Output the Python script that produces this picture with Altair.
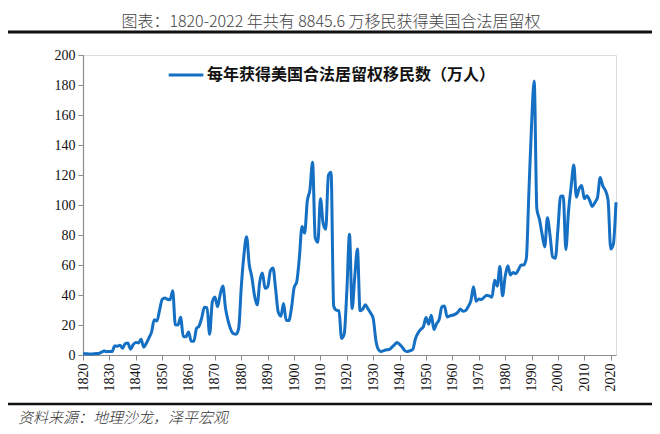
import altair as alt
import pandas as pd

# Persons obtaining lawful permanent resident status, 1820-2022 (万人)
years = list(range(1820, 2023))
values = [
    0.84, 0.91, 0.69, 0.64, 0.79, 1.02, 1.08, 1.89, 2.74, 2.25,
    2.33, 2.26, 6.05, 5.86, 6.54, 4.54, 7.62, 7.93, 3.89, 6.81,
    8.41, 8.03, 10.46, 5.25, 7.86, 11.44, 15.44, 23.50, 22.65, 29.70,
    37.00, 37.95, 37.16, 36.86, 42.78, 20.09, 20.04, 25.13, 12.31, 12.13,
    15.36, 9.19, 9.20, 17.63, 19.34, 24.81, 31.86, 31.57, 13.88, 35.28,
    38.72, 32.14, 40.48, 45.98, 31.33, 22.75, 17.00, 14.19, 13.85, 17.78,
    45.73, 66.94, 78.90, 60.33, 51.86, 39.53, 33.42, 49.01, 54.69, 44.44,
    45.53, 56.03, 57.97, 43.97, 28.56, 25.85, 34.33, 23.08, 22.93, 31.17,
    44.86, 48.79, 64.87, 85.70, 81.29, 102.65, 110.07, 128.53, 78.29, 75.18,
    104.16, 87.86, 83.82, 119.79, 121.85, 32.67, 29.88, 29.54, 11.06, 14.11,
    43.00, 80.52, 30.96, 52.29, 70.69, 29.43, 30.45, 33.52, 30.73, 27.97,
    24.17, 9.71, 3.56, 2.31, 2.95, 3.50, 3.63, 5.02, 6.79, 8.30,
    7.08, 5.18, 2.88, 2.37, 2.86, 3.81, 10.87, 14.73, 17.06, 18.83,
    24.92, 20.57, 26.55, 17.04, 20.82, 23.78, 32.16, 32.69, 25.33, 26.07,
    26.54, 27.13, 28.38, 30.63, 29.22, 29.67, 32.30, 36.20, 45.44, 35.86,
    37.33, 37.05, 38.47, 39.85, 39.39, 38.54, 49.91, 45.88, 58.98, 39.42,
    52.43, 59.50, 53.36, 55.01, 54.18, 56.81, 60.00, 59.99, 64.13, 109.02,
    153.59, 182.66, 97.40, 90.39, 80.40, 72.02, 91.56, 79.78, 65.32, 64.48,
    84.10, 105.89, 105.94, 70.35, 95.79, 112.23, 126.61, 105.24, 110.71, 113.08,
    104.26, 106.20, 103.16, 99.06, 101.65, 105.10, 118.35, 112.72, 109.66, 103.18,
    70.74, 74.00, 101.83,
]
series_name = "每年获得美国合法居留权移民数（万人）"
title_text = "图表：1820-2022 年共有 8845.6 万移民获得美国合法居留权"
source_text = "资料来源：地理沙龙，泽平宏观"
x_ticks = list(range(1820, 2021, 10))
y_ticks = list(range(0, 201, 20))

df = pd.DataFrame({"year": years, "value": values, "series": series_name})

BLUE = "#1570C4"
AXIS_GRAY = "#8c8c8c"

line = alt.Chart(df).mark_line(strokeWidth=3, interpolate="monotone").encode(
    x=alt.X("year:Q",
            scale=alt.Scale(domain=[1820, 2022], nice=False, zero=False),
            axis=alt.Axis(values=x_ticks, format="d", labelAngle=-90, title=None,
                          grid=False, domainColor=AXIS_GRAY, tickColor=AXIS_GRAY,
                          tickSize=5, labelFont="Liberation Serif", labelFontSize=14,
                          labelColor="#111", labelPadding=3, domainWidth=1.2)),
    y=alt.Y("value:Q",
            scale=alt.Scale(domain=[0, 200], nice=False),
            axis=alt.Axis(values=y_ticks, title=None, grid=False,
                          domainColor=AXIS_GRAY, tickColor=AXIS_GRAY, tickSize=5,
                          labelFont="Liberation Serif", labelFontSize=14,
                          labelColor="#111", labelPadding=3, domainWidth=1.2)),
    color=alt.Color("series:N", scale=alt.Scale(range=[BLUE]),
                    legend=alt.Legend(title=None, orient="none", legendX=84, legendY=1,
                                      symbolType="stroke", symbolSize=1200,
                                      symbolStrokeWidth=3, labelFont="Noto Sans CJK SC",
                                      labelFontSize=16, labelFontWeight="bold",
                                      labelColor="#111", labelLimit=400,
                                      labelOffset=2)),
)

deco_df = pd.DataFrame({"k": [0]})

title_mark = alt.Chart(deco_df).mark_text(
    text=title_text, font="Noto Sans CJK SC", fontSize=16, fontWeight=300,
    color="#444", align="center", baseline="alphabetic"
).encode(x=alt.value(248), y=alt.value(-28))

top_rule = alt.Chart(deco_df).mark_rule(color="#111", strokeWidth=3).encode(
    x=alt.value(-75), x2=alt.value(570), y=alt.value(-23))

bottom_rule = alt.Chart(deco_df).mark_rule(color="#111", strokeWidth=2.5).encode(
    x=alt.value(-75), x2=alt.value(570), y=alt.value(349))

source_mark = alt.Chart(deco_df).mark_text(
    text=source_text, font="Noto Sans CJK SC", fontSize=15, fontStyle="italic",
    fontWeight=300, color="#333", align="left", baseline="middle"
).encode(x=alt.value(-65), y=alt.value(363))

chart = alt.layer(line, title_mark, top_rule, bottom_rule, source_mark).properties(
    width=533, height=300,
    autosize=alt.AutoSizeParams(type="none"),
    padding={"left": 75, "top": 47, "right": 36, "bottom": 71},
).configure_view(stroke=None).configure(background="white")

chart.save("out.html", embed_options={"renderer": "svg", "actions": False})
